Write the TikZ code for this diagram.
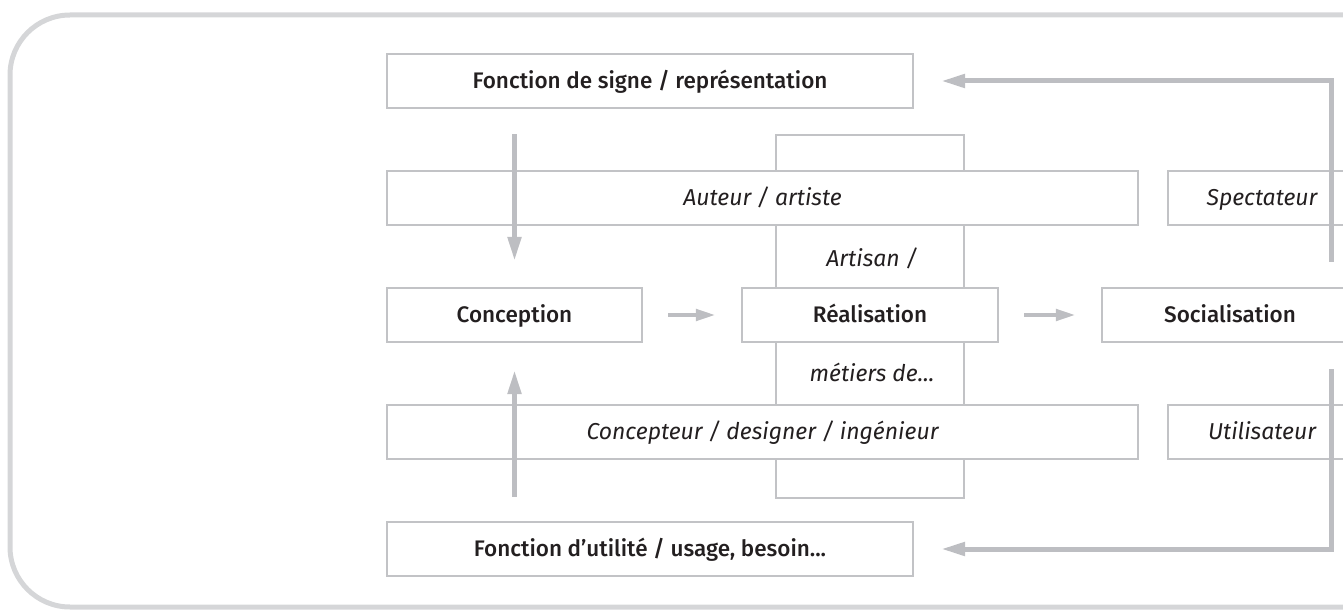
\documentclass[tikz,border=0pt]{standalone}
\usepackage{fontspec}
\setmainfont{Fira Sans}
\newfontfamily\medfont{Fira Sans Medium}
\usetikzlibrary{arrows.meta,calc}
\definecolor{framegray}{HTML}{D5D6D8}
\definecolor{boxgray}{HTML}{C2C3C6}
\definecolor{arrgray}{HTML}{BDBEC2}
\definecolor{txt}{HTML}{231F20}
\begin{document}
\begin{tikzpicture}[x=1pt,y=-1pt,
  box/.style={draw=boxgray, line width=2.2pt, fill=white, minimum height=54pt, inner sep=0pt, text=txt, text height=15pt, text depth=0pt, font=\medfont\fontsize{22.5}{26}\selectfont},
  ibox/.style={box, font=\itshape\fontsize{23}{26}\selectfont},
  itext/.style={inner sep=0pt, text=txt, text height=15pt, text depth=0pt, font=\itshape\fontsize{23}{26}\selectfont},
  bigarrow/.style={draw=arrgray, line width=5pt, -{Triangle[length=24pt,width=13pt]}},
  smallarrow/.style={draw=arrgray, line width=4.5pt, -{Triangle[length=20pt,width=11pt]}}]
\useasboundingbox (0,0) rectangle (1343,612);
% outer frame
\draw[framegray, line width=5pt, rounded corners=60pt] (1370,15) -- (10,15) -- (10,607) -- (1370,607);
% tall box
\node[box, minimum width=188pt, minimum height=363pt, text height=0pt, text depth=0pt] (tall) at (870,316.5) {};
\node[ibox, minimum width=751pt] (auteur) at (762.5,198) {Auteur / artiste};
\node[ibox, minimum width=751pt] (concepteur) at (762.5,432) {Concepteur / designer / ingénieur};
\node[box, minimum width=256pt] (real) at (870,315) {Réalisation};
\node[box, minimum width=255pt] (conc) at (514.5,315) {Conception};
\node[box, minimum width=256pt] (soc) at (1230,315) {Socialisation};
\node[box, minimum width=526pt] (signe) at (650,81) {Fonction de signe / représentation};
\node[box, minimum width=526pt] (util) at (650,549) {Fonction d’utilité / usage, besoin...};
\node[ibox, minimum width=188pt] (spect) at (1262,198) {Spectateur};
\node[ibox, minimum width=188pt] (utilis) at (1262,432) {Utilisateur};
\node[itext] (artisan) at (872,259) {Artisan /};
\node[itext] (metiers) at (872,374) {métiers de...};
% arrows
\coordinate (ax) at (514.5,0);
\draw[bigarrow, shorten <=25pt, shorten >=26pt] (signe.south -| ax) -- (conc.north -| ax);
\draw[bigarrow, shorten <=24pt, shorten >=27pt] (util.north -| ax) -- (conc.south -| ax);
\draw[smallarrow, shorten <=25pt, shorten >=25pt] (conc) -- (real);
\draw[smallarrow, shorten <=25pt, shorten >=25pt] (real) -- (soc);
\coordinate (lt) at (1331,262);
\coordinate (lb) at (1331,369);
\draw[bigarrow, shorten >=27pt] (lt) |- (signe.east);
\draw[bigarrow, shorten >=27pt] (lb) |- (util.east);
\end{tikzpicture}
\end{document}
